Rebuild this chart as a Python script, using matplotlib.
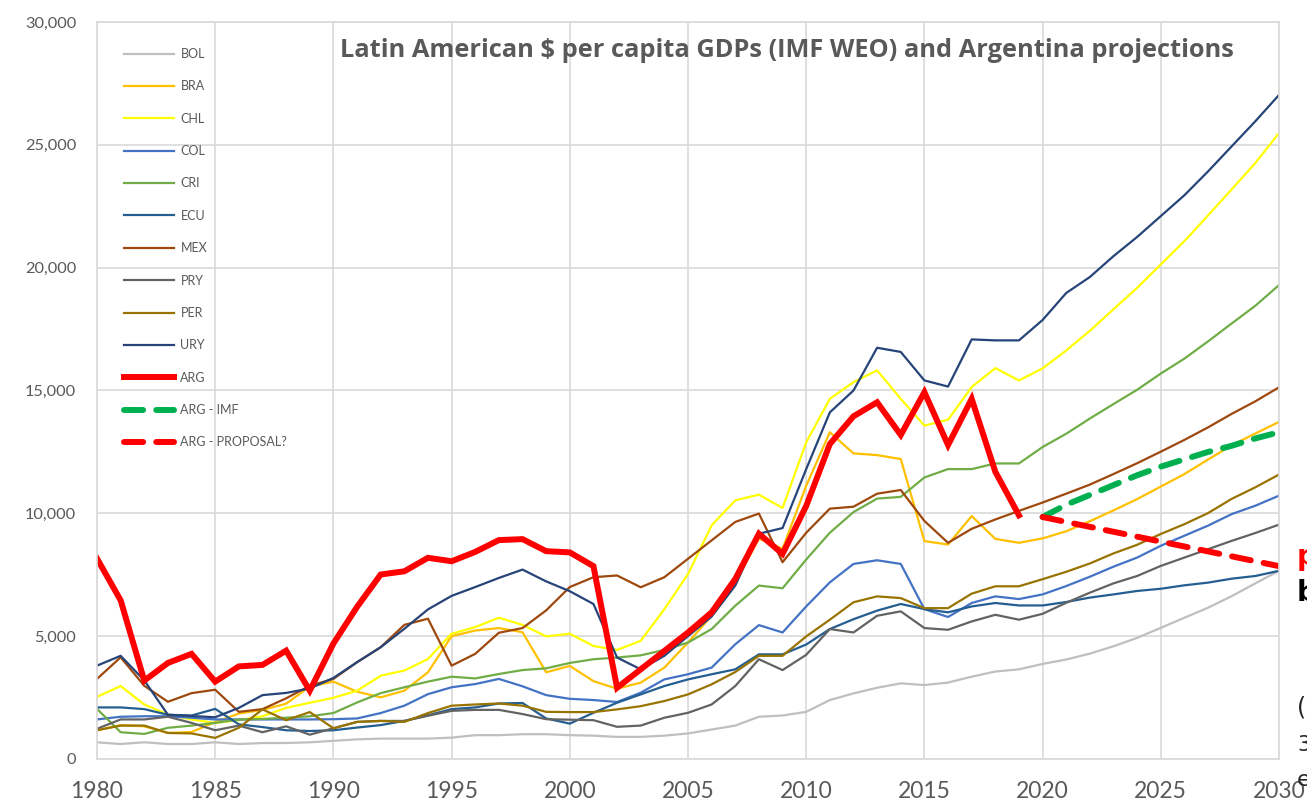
import matplotlib
matplotlib.use("Agg")
import matplotlib.pyplot as plt
from matplotlib.ticker import FuncFormatter, MultipleLocator

years = list(range(1980, 2031))
arg_years = list(range(1980, 2020))
proj_years = list(range(2020, 2031))

bol = [680, 610, 680, 610, 610, 680, 610, 650, 650, 680,
       740, 800, 830, 830, 830, 870, 970, 970, 1010, 1010,
       970, 950, 900, 900, 950, 1040, 1200, 1360, 1720, 1770,
       1920, 2400, 2670, 2900, 3080, 3010, 3110, 3350, 3560, 3650,
       3870, 4050, 4290, 4590, 4930, 5340, 5750, 6160, 6630, 7150, 7660]
bra = [1170, 1380, 1330, 1060, 1100, 1500, 1850, 2000, 2250, 2950,
       3150, 2740, 2510, 2780, 3530, 5000, 5230, 5330, 5160, 3530,
       3790, 3170, 2860, 3110, 3720, 4740, 5830, 7190, 8970, 8560,
       11120, 13300, 12440, 12370, 12210, 8870, 8730, 9890, 8960, 8800,
       8980, 9270, 9680, 10120, 10580, 11090, 11600, 12190, 12770, 13250, 13720]
chl = [2530, 2970, 2220, 1810, 1610, 1470, 1580, 1740, 2080, 2290,
       2490, 2780, 3390, 3600, 4070, 5100, 5370, 5750, 5460, 4990,
       5100, 4600, 4440, 4810, 6100, 7530, 9510, 10530, 10760, 10220,
       12890, 14660, 15340, 15820, 14660, 13570, 13810, 15140, 15910, 15410,
       15900, 16630, 17430, 18310, 19180, 20130, 21080, 22130, 23190, 24260, 25480]
col = [1610, 1720, 1740, 1740, 1680, 1610, 1610, 1610, 1610, 1610,
       1620, 1650, 1870, 2170, 2640, 2920, 3050, 3260, 2960, 2600,
       2450, 2400, 2320, 2700, 3240, 3450, 3720, 4670, 5450, 5150,
       6210, 7190, 7940, 8090, 7940, 6100, 5780, 6350, 6620, 6510,
       6700, 7040, 7420, 7830, 8200, 8680, 9090, 9500, 9970, 10310, 10720]
cri = [2040, 1090, 1020, 1270, 1360, 1470, 1610, 1630, 1680, 1740,
       1870, 2300, 2680, 2920, 3150, 3350, 3280, 3460, 3620, 3690,
       3910, 4060, 4130, 4220, 4440, 4740, 5290, 6240, 7060, 6950,
       8120, 9210, 10050, 10600, 10670, 11460, 11800, 11800, 12030, 12030,
       12700, 13240, 13860, 14450, 15030, 15690, 16300, 17000, 17730, 18450, 19290]
ecu = [2100, 2100, 2030, 1800, 1770, 2040, 1410, 1300, 1170, 1140,
       1170, 1280, 1380, 1550, 1780, 2030, 2100, 2260, 2280, 1650,
       1440, 1880, 2290, 2630, 2970, 3240, 3450, 3650, 4260, 4260,
       4660, 5290, 5690, 6040, 6310, 6100, 5970, 6210, 6350, 6250,
       6250, 6390, 6570, 6700, 6840, 6930, 7070, 7180, 7340, 7450, 7660]
mex = [3260, 4140, 2980, 2330, 2680, 2820, 1920, 2030, 2470, 2980,
       3260, 3940, 4550, 5460, 5710, 3800, 4280, 5140, 5330, 6050,
       7000, 7400, 7470, 6990, 7400, 8150, 8900, 9650, 9990, 8010,
       9210, 10190, 10270, 10800, 10950, 9690, 8800, 9370, 9750, 10100,
       10440, 10800, 11170, 11600, 12040, 12510, 12990, 13500, 14050, 14560, 15130]
pry = [1230, 1610, 1610, 1720, 1470, 1170, 1360, 1090, 1330, 990,
       1250, 1510, 1550, 1550, 1760, 1960, 2000, 2000, 1830, 1620,
       1600, 1580, 1310, 1360, 1680, 1880, 2220, 2970, 4060, 3620,
       4240, 5290, 5150, 5830, 6010, 5330, 5260, 5600, 5870, 5670,
       5910, 6360, 6770, 7150, 7450, 7860, 8200, 8540, 8880, 9200, 9540]
per = [1170, 1360, 1360, 1060, 1040, 860, 1270, 2020, 1580, 1910,
       1250, 1510, 1550, 1510, 1870, 2170, 2220, 2260, 2170, 1920,
       1910, 1910, 2020, 2150, 2360, 2630, 3040, 3540, 4200, 4200,
       4990, 5670, 6380, 6620, 6550, 6140, 6140, 6730, 7030, 7030,
       7320, 7620, 7960, 8370, 8720, 9160, 9560, 10010, 10590, 11060, 11580]
ury = [3800, 4200, 3200, 1800, 1750, 1700, 2080, 2600, 2690, 2870,
       3300, 3940, 4550, 5300, 6090, 6640, 7000, 7370, 7710, 7230,
       6830, 6310, 4130, 3650, 4200, 5000, 5800, 7060, 9170, 9400,
       11800, 14110, 15000, 16740, 16570, 15410, 15160, 17080, 17040, 17040,
       17870, 18970, 19620, 20470, 21250, 22100, 22950, 23920, 24940, 25960, 27030]
arg = [8160, 6460, 3190, 3910, 4280, 3150, 3770, 3830, 4410, 2780,
       4700, 6190, 7510, 7640, 8190, 8050, 8430, 8910, 8950, 8460,
       8410, 7850, 2900, 3650, 4400, 5150, 5970, 7330, 9170, 8350,
       10300, 12820, 13950, 14520, 13190, 14930, 12780, 14660, 11690, 9920]
arg_imf = [9850, 10350, 10750, 11150, 11550, 11900, 12200, 12500, 12750, 13050, 13300]
arg_proposal = [9850, 9650, 9450, 9250, 9050, 8850, 8650, 8450, 8250, 8050, 7850]

countries = ["BOL", "BRA", "CHL", "COL", "CRI", "ECU", "MEX", "PRY", "PER", "URY"]
series = [bol, bra, chl, col, cri, ecu, mex, pry, per, ury]
colors = ["#BFBFBF", "#FFC000", "#FFFF00", "#4472C4", "#70AD47",
          "#255E91", "#9E480E", "#636363", "#997300", "#264478"]

fig = plt.figure(figsize=(13.07, 8.06), dpi=100)
ax = fig.add_axes([97 / 1307, 47 / 806, 1182 / 1307, 737 / 806])

for name, vals, c in zip(countries, series, colors):
    ax.plot(years, vals, color=c, lw=1.6, label=name)
ax.plot(arg_years, arg, color="#FF0000", lw=4.3, label="ARG", solid_joinstyle="miter")
ax.plot(proj_years, arg_imf, color="#00B050", lw=4.3, ls=(0, (3.2, 2.2)),
        dash_capstyle="round", label="ARG - IMF")
ax.plot(proj_years, arg_proposal, color="#FF0000", lw=4.3, ls=(0, (3.2, 2.2)),
        dash_capstyle="round", label="ARG - PROPOSAL?")

ax.set_xlim(1980, 2030)
ax.set_ylim(0, 30000)
ax.xaxis.set_major_locator(MultipleLocator(5))
ax.yaxis.set_major_locator(MultipleLocator(5000))
ax.yaxis.set_major_formatter(FuncFormatter(lambda v, p: f"{int(v):,}"))
ax.grid(True, color="#D9D9D9", lw=1.2)
ax.set_axisbelow(True)
for s in ax.spines.values():
    s.set_color("#D9D9D9")
    s.set_linewidth(1.2)
ax.tick_params(length=0, colors="#595959")
ax.tick_params(axis="x", labelsize=16.5, pad=16)
ax.tick_params(axis="y", labelsize=11.8, pad=15)
for lab in ax.get_xticklabels() + ax.get_yticklabels():
    lab.set_family("Lato")

ax.text(0.584, 0.962, "Latin American $ per capita GDPs (IMF WEO) and Argentina projections",
        transform=ax.transAxes, ha="center", va="center", fontsize=18.3,
        fontweight="bold", color="#595959", family="Open Sans")

leg = ax.legend(loc="upper left", bbox_to_anchor=(0.0135, 0.98), frameon=False,
                handlelength=4.0, labelspacing=1.63, handletextpad=0.5,
                prop={"family": "Lato", "size": 9})
for t in leg.get_texts():
    t.set_color("#595959")

# text cut off at the right edge of the original
fig.text(1297 / 1307, 1 - 557 / 806, "p", color="#FF0000", fontsize=20,
         fontweight="bold", va="center", ha="left")
fig.text(1297 / 1307, 1 - 593 / 806, "b", color="black", fontsize=20,
         fontweight="bold", va="center", ha="left")
fig.text(1297 / 1307, 1 - 707 / 806, "(", color="#262626", fontsize=17, va="center", ha="left")
fig.text(1297 / 1307, 1 - 745 / 806, "3", color="#262626", fontsize=15, va="center", ha="left")
fig.text(1297 / 1307, 1 - 780 / 806, "e", color="#262626", fontsize=16, va="center", ha="left")

fig.savefig("out.png", dpi=100)
